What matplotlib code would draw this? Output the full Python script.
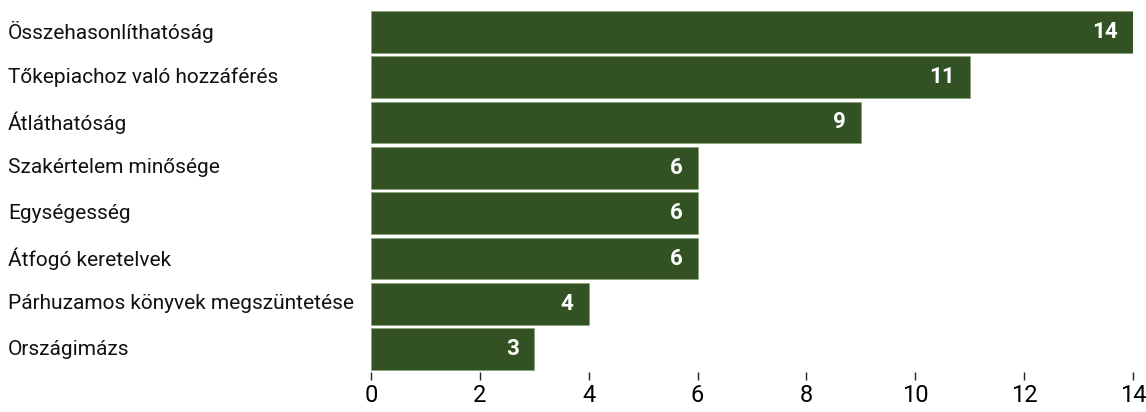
import matplotlib.pyplot as plt
from matplotlib import font_manager
from matplotlib.transforms import blended_transform_factory

categories = ["Összehasonlíthatóság", "Tőkepiachoz való hozzáférés", "Átláthatóság",
              "Szakértelem minősége", "Egységesség", "Átfogó keretelvek",
              "Párhuzamos könyvek megszüntetése", "Országimázs"]
values = [14, 11, 9, 6, 6, 6, 4, 3]

names = {f.name for f in font_manager.fontManager.ttflist}
narrow = "Liberation Sans Narrow" if "Liberation Sans Narrow" in names else "Roboto"

fig = plt.figure(figsize=(11.46, 4.12), dpi=100)
ax = fig.add_axes([371 / 1146, 1 - 372 / 412, (1133 - 371) / 1146, (372 - 9) / 412])

y = list(range(len(categories)))
ax.barh(y, values, height=0.92, color="#325224", edgecolor="#8aa57c", linewidth=0.6)
ax.set_ylim(len(categories) - 0.5, -0.5)
ax.set_xlim(0, 14)

# value labels inside the bars
for i, v in enumerate(values):
    ax.text(v - 0.28, i, str(v), ha="right", va="center", color="white",
            fontsize=16, fontweight="bold", family="Roboto")

# category labels, left aligned at the figure edge
tr = blended_transform_factory(fig.transFigure, ax.transData)
for i, c in enumerate(categories):
    fig.text(8 / 1146, i, c, transform=tr, fontsize=15, family=narrow,
             ha="left", va="center", color="#111111")

ax.set_xticks(range(0, 15, 2))
ax.set_yticks([])
for s in ax.spines.values():
    s.set_visible(False)
ax.tick_params(axis="x", length=6, width=1, color="#222222", pad=3, labelsize=17)
for lbl in ax.get_xticklabels():
    lbl.set_family(narrow)

fig.savefig("out.png", dpi=100)
